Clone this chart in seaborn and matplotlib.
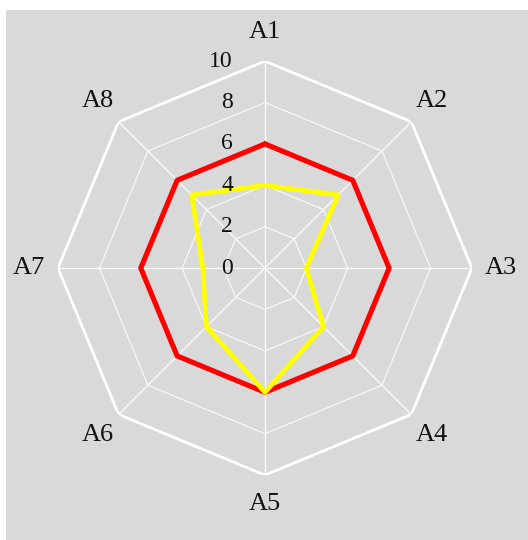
import numpy as np
import pandas as pd
import matplotlib
matplotlib.use("Agg")
import matplotlib.pyplot as plt
from matplotlib.patches import Rectangle
import seaborn as sns

categories = ["A1", "A2", "A3", "A4", "A5", "A6", "A7", "A8"]
series_red = [6, 6, 6, 6, 6, 6, 6, 6]
series_yellow = [4, 5, 2, 4, 6, 4, 3, 5]
radial_ticks = [0, 2, 4, 6, 8, 10]
rmax = 10

sns.set_style("white")
plt.rcParams["font.family"] = ["Liberation Serif", "DejaVu Serif"]

fig = plt.figure(figsize=(5.28, 5.40), dpi=100)
fig.patch.set_facecolor("white")
fig.add_artist(Rectangle((6 / 528, 0), 1 - 6 / 528, 1 - 10 / 540,
                         transform=fig.transFigure, facecolor="#d9d9d9",
                         edgecolor="none", zorder=0))

ax = fig.add_axes([0.1098, 0.12, 0.784, 0.767], projection="polar")
ax.set_facecolor("none")
ax.set_theta_zero_location("N")
ax.set_theta_direction(-1)
ax.set_ylim(0, rmax)
ax.grid(False)
ax.spines["polar"].set_visible(False)
ax.set_xticks([])
ax.set_yticks([])

n = len(categories)
angles = np.arange(n) * 2 * np.pi / n
closed = np.append(angles, angles[0])

# grid rings (octagons)
for r in radial_ticks[1:]:
    lw = 2.0 if r == rmax else 0.8
    alpha = 1.0 if r == rmax else 0.9
    ax.plot(closed, [r] * (n + 1), color="white", lw=lw, alpha=alpha, zorder=1)
# spokes
for a in angles:
    ax.plot([a, a], [0, rmax], color="white", lw=0.9, alpha=0.9, zorder=1)

df = pd.DataFrame({
    "theta": np.concatenate([closed, closed]),
    "value": series_red + series_red[:1] + series_yellow + series_yellow[:1],
    "series": ["red"] * (n + 1) + ["yellow"] * (n + 1),
})
sns.lineplot(data=df[df.series == "red"], x="theta", y="value", sort=False,
             color="#ff0000", lw=3.7, ax=ax, zorder=3, estimator=None)
sns.lineplot(data=df[df.series == "yellow"], x="theta", y="value", sort=False,
             color="#ffff00", lw=3.4, ax=ax, zorder=4, estimator=None)
ax.set_xlabel("")
ax.set_ylabel("")
ax.set_ylim(0, rmax)

# category labels
for a, c in zip(angles, categories):
    ax.text(a, 11.4, c, ha="center", va="center", fontsize=19,
            color="#111111", clip_on=False)

# radial labels
for r in radial_ticks:
    ax.annotate(str(r), xy=(0, r), xytext=(-23, 0), textcoords="offset points",
                ha="right", va="center", fontsize=17, color="#111111",
                annotation_clip=False, zorder=5)

fig.savefig("out.png", dpi=100)
